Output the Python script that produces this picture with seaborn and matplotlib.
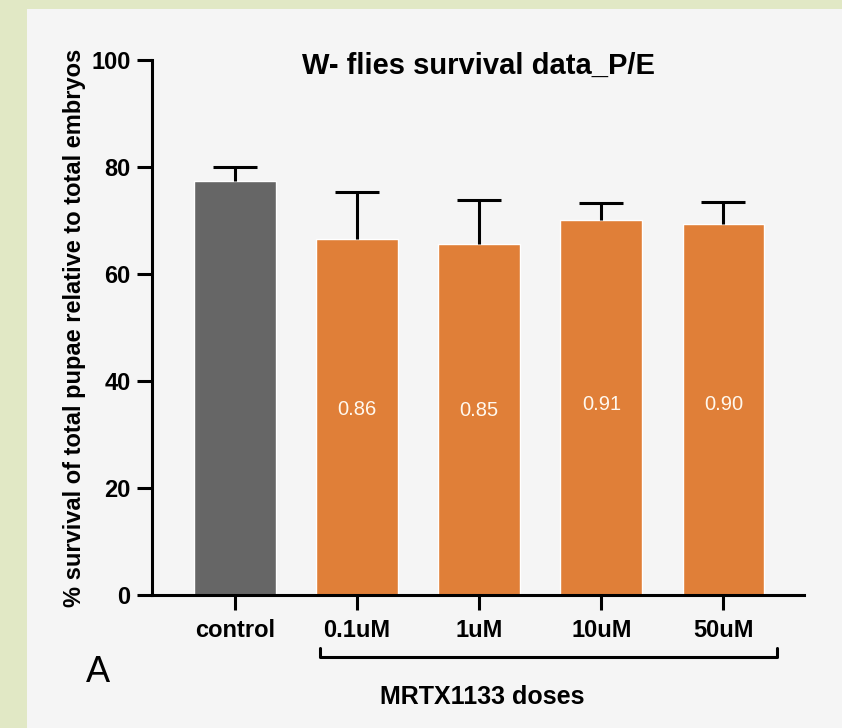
import matplotlib
matplotlib.use("Agg")
import matplotlib.pyplot as plt
import seaborn as sns
import numpy as np
from matplotlib.patches import Rectangle

# data
doses = ["control", "0.1uM", "1uM", "10uM", "50uM"]
survival = [77.3, 66.6, 65.6, 70.1, 69.3]
sd = [2.7, 8.7, 8.2, 3.1, 4.1]
ratios = ["", "0.86", "0.85", "0.91", "0.90"]
ratio_y = [0, 34.6, 34.4, 35.7, 35.7]
colors = ["#666666", "#e07f38", "#e07f38", "#e07f38", "#e07f38"]

sns.set_style("ticks")
plt.rcParams['font.family'] = ['Liberation Sans', 'DejaVu Sans']
plt.rcParams['text.color'] = 'black'
plt.rcParams['axes.labelcolor'] = 'black'
plt.rcParams['xtick.color'] = 'black'
plt.rcParams['ytick.color'] = 'black'
plt.rcParams['axes.edgecolor'] = 'black'

fig = plt.figure(figsize=(8.42, 7.28), dpi=100)
fig.patch.set_facecolor("#e1e8c5")
fig.patches.append(Rectangle((27/842, 0), 1, 1 - 9/728, transform=fig.transFigure,
                             facecolor="#f5f5f5", edgecolor="none", zorder=-10))

ax = fig.add_axes([152/842, 1 - 595/728, (804 - 152)/842, 535/728])
ax.patch.set_alpha(0)

sns.barplot(x=doses, y=survival, hue=doses, palette=colors, legend=False,
            width=0.67, saturation=1, ax=ax, zorder=2)
eb = ax.errorbar(np.arange(len(doses)), survival, yerr=[np.zeros(len(sd)), sd],
                 fmt="none", ecolor="black", elinewidth=2.2, capsize=15.5, capthick=2.2,
                 zorder=3, clip_on=False)
# upper bars only, as in Prism
eb[1][0].set_visible(False)

for i, (t, yy) in enumerate(zip(ratios, ratio_y)):
    if t:
        ax.text(i, yy, t, color="#fff8ee", ha="center", va="center", fontsize=14.5)

ax.set_ylim(0, 100)
ax.set_xlim(-0.68, 4.66)
ax.set_yticks([0, 20, 40, 60, 80, 100])
for s in ["top", "right"]:
    ax.spines[s].set_visible(False)
for s in ["left", "bottom"]:
    ax.spines[s].set_linewidth(2.2)
ax.tick_params(axis="both", width=2.2, length=10.5, labelsize=17, pad=5)
ax.tick_params(axis="x", pad=7)
for lab in ax.get_xticklabels() + ax.get_yticklabels():
    lab.set_fontweight("bold")

ax.set_ylabel("% survival of total pupae relative to total embryos",
              fontsize=17, fontweight="bold", labelpad=4)
ax.set_xlabel("")
ax.set_title("W- flies survival data_P/E", fontsize=21, fontweight="bold", pad=-10, y=1.0)

# bracket under the doses
tr = ax.get_xaxis_transform()
bx = [0.70, 0.70, 4.44, 4.44]
by = [-0.099, -0.116, -0.116, -0.099]
ax.plot(bx, by, color="black", lw=2.2, transform=tr, clip_on=False)

fig.text(482/842, 1 - 697/728, "MRTX1133 doses", ha="center", va="center",
         fontsize=18, fontweight="bold")
fig.text(98/842, 1 - 672/728, "A", ha="center", va="center", fontsize=26)

fig.savefig("out.png", dpi=100, facecolor=fig.get_facecolor())
